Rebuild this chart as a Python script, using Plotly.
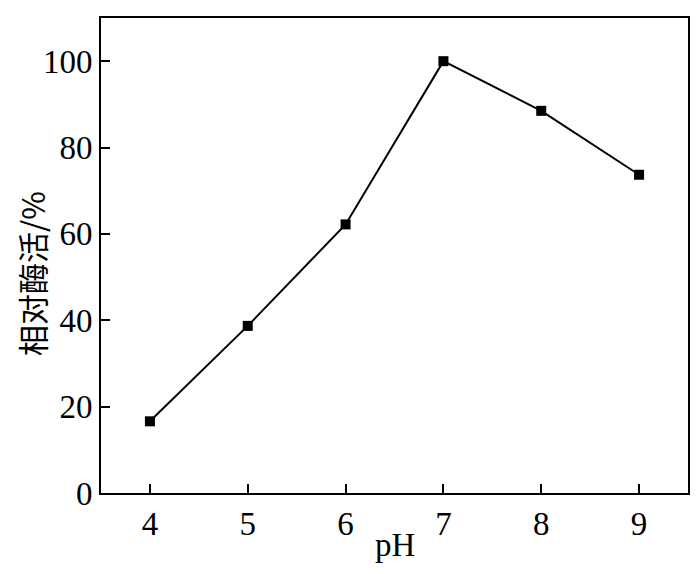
import plotly.graph_objects as go

ph = [4, 5, 6, 7, 8, 9]
activity = [16.6, 38.7, 62.2, 100.0, 88.5, 73.7]
y_ticks = [0, 20, 40, 60, 80, 100]

fig = go.Figure()
fig.add_trace(go.Scatter(
    x=ph, y=activity, mode='lines+markers',
    line=dict(color='black', width=2),
    marker=dict(symbol='square', size=10, color='black'),
    showlegend=False))

axis_font = dict(family='Liberation Serif', size=33, color='black')

fig.update_xaxes(
    range=[3.5, 9.5], tickvals=ph, ticks='inside', ticklen=9, tickwidth=2,
    tickcolor='black', showline=True, linewidth=2, linecolor='black', mirror=True,
    showgrid=False, zeroline=False, tickfont=axis_font)
fig.update_yaxes(
    range=[0, 110], tickvals=y_ticks, ticks='inside', ticklen=9, tickwidth=2,
    tickcolor='black', showline=True, linewidth=2, linecolor='black', mirror=True,
    showgrid=False, zeroline=False, tickfont=axis_font)

# подписи осей отдельными аннотациями, чтобы точно поставить их
fig.add_annotation(
    text='pH', xref='paper', yref='paper', x=0.5, y=0, yshift=-52,
    xanchor='center', yanchor='middle', showarrow=False, font=axis_font)
fig.add_annotation(
    text='相对酶活/%', textangle=-90, xref='paper', yref='paper',
    x=0, y=0.461, xshift=-70, xanchor='center', yanchor='middle',
    showarrow=False,
    font=dict(family='Noto Sans CJK SC', size=31, color='black'))

fig.update_layout(
    width=700, height=574,
    margin=dict(l=93, r=20, t=8, b=89),
    plot_bgcolor='white', paper_bgcolor='white')

fig.write_html('out.html')
